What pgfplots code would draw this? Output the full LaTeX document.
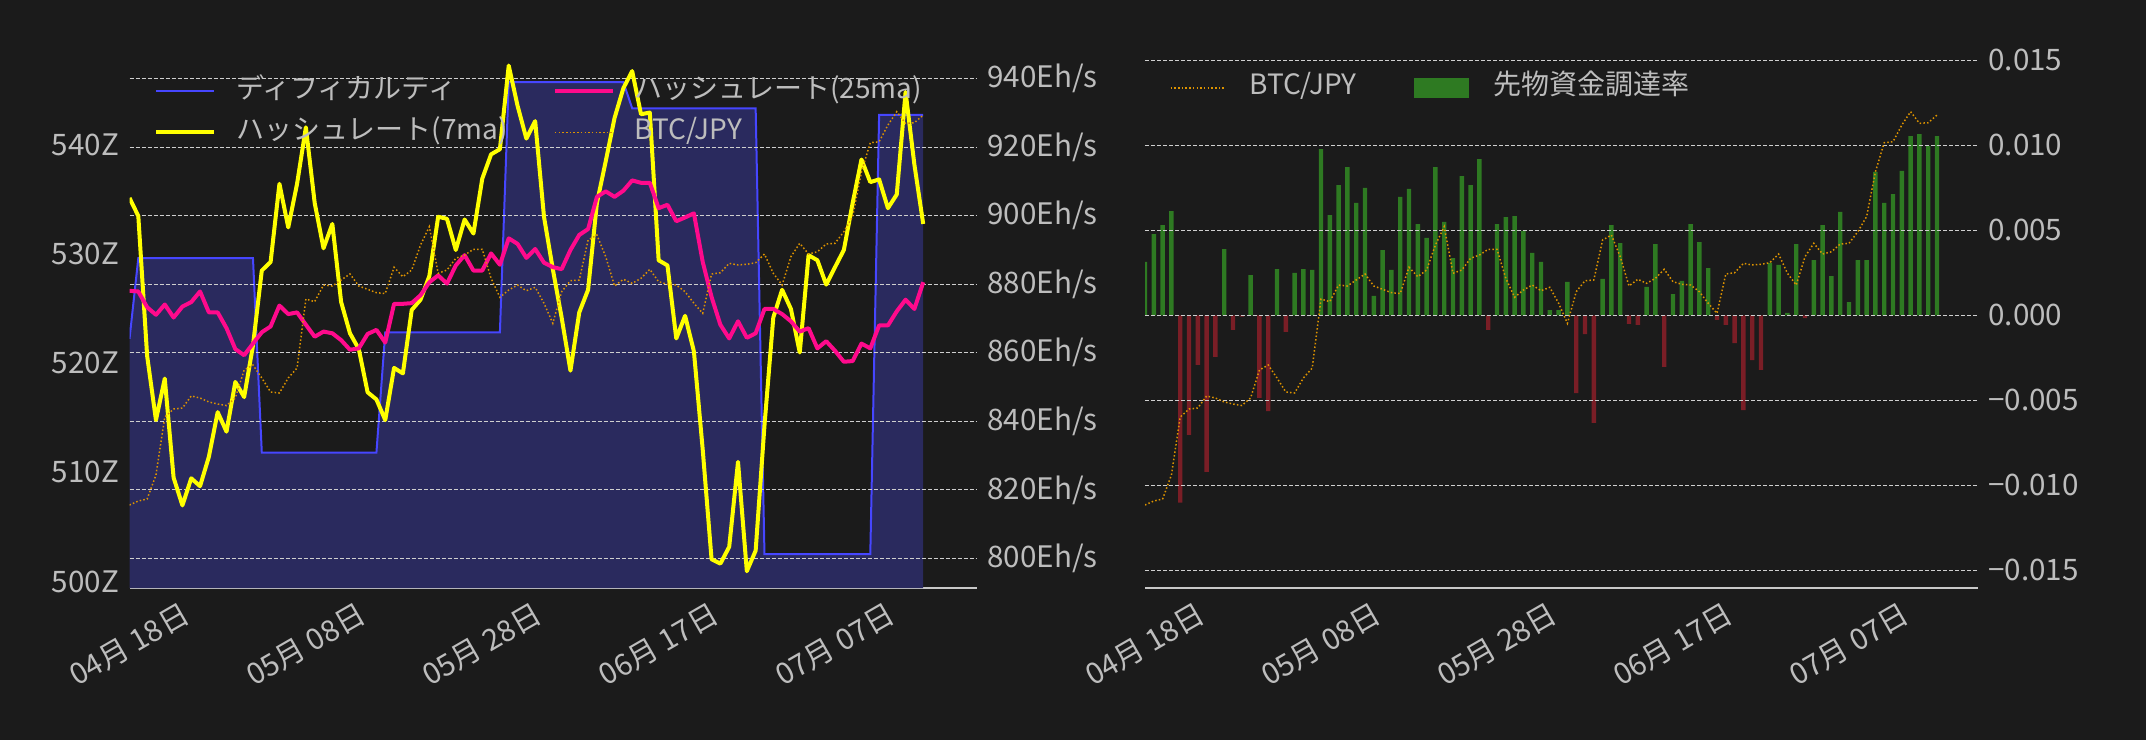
\documentclass[border=0pt]{standalone}
\usepackage{fontspec}
\setmainfont{Noto Sans CJK JP}
\usepackage{pgfplots}
\pgfplotsset{compat=1.18}
\usepackage{pgfplotstable}

\definecolor{bg}{HTML}{1B1B1B}
\definecolor{tickc}{HTML}{BDBDBD}
\definecolor{legc}{HTML}{BDBDBD}
\definecolor{gridc}{HTML}{CFCFCF}
\definecolor{spinec}{HTML}{C8C8C8}
\definecolor{diffline}{HTML}{4646FF}
\definecolor{difffill}{HTML}{2A2A5E}
\definecolor{yel}{HTML}{FFFF00}
\definecolor{mag}{HTML}{FF0A8C}
\definecolor{btcc}{HTML}{DD9300}
\definecolor{barg}{HTML}{2E7A22}
\definecolor{barr}{HTML}{7A1E26}

% day 0 = 04/18
\pgfplotstableread{
d diff h7 h25 btc
0 522.2 905.2 878.1 1206.5
1 529.6 899.9 877.9 1212.2
2 529.6 859.1 873.3 1215.1
3 529.6 840.4 871.1 1249.5
4 529.6 852.5 874.1 1332.6
5 529.6 823.6 870.3 1344.1
6 529.6 815.5 873.5 1345.5
7 529.6 823.4 874.8 1362.8
8 529.6 821.1 877.9 1359.9
9 529.6 829.7 871.8 1354.2
10 529.6 842.7 871.8 1351.3
11 529.6 837.0 867.2 1349.1
12 529.6 851.5 861.1 1359.9
13 529.6 847.1 859.3 1400.0
14 529.6 862.1 862.7 1407.2
15 511.8 884.0 866.0 1388.6
16 511.8 886.5 867.7 1368.5
17 511.8 909.3 873.8 1367.1
18 511.8 896.6 871.3 1388.6
19 511.8 909.3 871.8 1402.9
20 511.8 925.8 868.2 1501.8
21 511.8 903.7 864.7 1498.0
22 511.8 890.5 866.2 1521.9
23 511.8 897.6 865.7 1520.5
24 511.8 874.8 863.7 1529.1
25 511.8 865.7 860.9 1537.7
26 511.8 861.1 861.3 1520.5
27 511.8 848.5 865.5 1515.7
28 511.8 846.4 866.7 1510.9
29 522.8 840.4 863.0 1509.7
30 522.8 855.6 874.3 1547.3
31 522.8 854.0 874.3 1533.8
32 522.8 872.5 874.5 1543.4
33 522.8 875.5 876.8 1579.3
34 522.8 882.4 880.6 1605.5
35 522.8 899.7 882.6 1538.7
36 522.8 899.1 880.2 1543.4
37 522.8 890.0 885.5 1560.2
38 522.8 898.9 888.5 1564.9
39 522.8 894.8 884.0 1573.1
40 522.8 910.8 884.0 1573.1
41 522.8 917.9 889.0 1531.5
42 522.8 919.4 885.7 1504.3
43 545.7 943.8 893.4 1514.7
44 545.7 932.1 891.8 1521.9
45 545.7 922.5 887.7 1513.7
46 545.7 927.6 890.3 1518.6
47 545.7 899.7 886.3 1495.7
48 545.7 884.4 885.0 1467.0
49 545.7 870.3 884.4 1512.3
50 545.7 854.8 890.0 1528.1
51 545.7 871.8 894.4 1529.1
52 545.7 878.4 896.1 1586.4
53 545.7 903.7 905.5 1593.6
54 545.7 915.9 907.1 1562.5
55 545.7 928.5 905.5 1520.5
56 545.7 937.2 907.3 1530.1
57 543.3 942.2 910.3 1524.3
58 543.3 929.6 909.6 1531.5
59 543.3 930.1 909.6 1544.4
60 543.3 887.0 902.2 1526.6
61 543.3 885.5 903.2 1522.9
62 543.3 864.2 898.4 1521.9
63 543.3 870.8 899.5 1512.3
64 543.3 860.4 900.7 1495.7
65 543.3 831.7 886.5 1481.3
66 543.3 799.8 876.3 1537.7
67 543.3 798.5 868.2 1539.5
68 543.3 803.4 864.2 1553.0
69 543.3 828.2 869.2 1550.6
70 543.3 796.3 864.4 1551.6
71 543.3 802.3 865.7 1553.9
72 502.5 838.8 872.8 1566.3
73 502.5 870.3 872.8 1538.7
74 502.5 878.4 871.3 1521.9
75 502.5 872.8 869.2 1562.5
76 502.5 860.1 866.2 1581.7
77 502.5 888.5 867.2 1566.3
78 502.5 887.0 861.3 1569.6
79 502.5 879.9 863.4 1580.7
80 502.5 885.0 860.6 1581.7
81 502.5 890.0 857.4 1598.3
82 502.5 903.7 857.6 1620.0
83 502.5 916.4 862.7 1684.3
84 502.5 909.8 861.3 1725.9
85 542.7 910.6 868.0 1727.3
86 542.7 902.2 868.0 1751.3
87 542.7 906.2 872.1 1770.4
88 542.7 936.1 875.5 1753.7
89 542.7 914.9 872.8 1754.6
90 542.7 897.6 880.6 1765.6
}\hashdata

\pgfplotstableread{
d fr
0 0.00314
1 0.00478
2 0.00531
3 0.00613
4 -0.01102
5 -0.00704
6 -0.00292
7 -0.00921
8 -0.00245
9 0.00390
10 -0.00086
11 -0.00008
12 0.00237
13 -0.00486
14 -0.00563
15 0.00272
16 -0.00098
17 0.00249
18 0.00272
19 0.00267
20 0.00978
21 0.00590
22 0.00766
23 0.00872
24 0.00661
25 0.00749
26 0.00114
27 0.00384
28 0.00267
29 0.00696
30 0.00743
31 0.00537
32 0.00455
33 0.00872
34 0.00549
35 0.00337
36 0.00819
37 0.00766
38 0.00919
39 -0.00086
40 0.00537
41 0.00578
42 0.00584
43 0.00496
44 0.00367
45 0.00314
46 0.00031
47 0.00031
48 0.00196
49 -0.00457
50 -0.00110
51 -0.00633
52 0.00214
53 0.00531
54 0.00425
55 -0.00051
56 -0.00057
57 0.00167
58 0.00419
59 -0.00304
60 0.00125
61 0.00202
62 0.00537
63 0.00431
64 0.00278
65 -0.00027
66 -0.00057
67 -0.00163
68 -0.00557
69 -0.00263
70 -0.00321
71 0.00308
72 0.00296
73 0.00014
74 0.00419
75 -0.00016
76 0.00325
77 0.00531
78 0.00231
79 0.00608
80 0.00078
81 0.00325
82 0.00325
83 0.00843
84 0.00661
85 0.00713
86 0.00849
87 0.01054
88 0.01066
89 0.00996
90 0.01054
}\funddata

\pgfplotsset{
  base/.style={
    scale only axis, anchor=south west, height=271.5pt, xmin=0,
    major tick length=0pt, tick style={draw=none},
    tick label style={font=\fontsize{14.8}{17}\selectfont, text=tickc},
    xticklabel style={yshift=-28.5pt, rotate=30, anchor=center},
    xtick={0,20,40,60,80},
    xticklabels={04月 18日,05月 08日,05月 28日,06月 17日,07月 07日},
  },
  leftax/.style={base, at={(64.75pt,76pt)}, width=423.75pt, xmax=96.1},
  rightax/.style={base, at={(572.5pt,76pt)}, width=416.5pt, xmax=94.66},
  bottomspine/.style={axis x line*=bottom, x axis line style={-, draw=spinec, line width=1.2pt}},
  dashgrid/.style={ymajorgrids, grid style={gridc, line width=0.5pt, dash pattern=on 2pt off 1pt}},
  btcline/.style={btcc, line width=0.75pt, dash pattern=on 0.75pt off 1.1pt},
  leg/.style={legend columns=2, legend cell align=left,
    legend style={draw=none, fill=none, inner sep=0pt, row sep=7.5pt, anchor=north west,
      font=\fontsize{14}{16}\selectfont, text=legc,
      nodes={inner sep=0pt, text height=10pt, text depth=3pt}}},
}

\begin{document}
\begin{tikzpicture}
\fill[bg] (0,0) rectangle (1073pt,370pt);

% left: difficulty
\begin{axis}[leftax, bottomspine, ymin=499.4, ymax=549.1,
  axis y line*=left, y axis line style={draw=none},
  ytick={500,510,520,530,540}, yticklabels={500Z,510Z,520Z,530Z,540Z},
  yticklabel style={anchor=east, inner xsep=0pt, xshift=-5pt}]
\addplot[draw=none, fill=difffill] table[x=d, y=diff] {\hashdata} \closedcycle;
\addplot[diffline, line width=1pt] table[x=d, y=diff] {\hashdata};
\end{axis}

% left: hashrate
\begin{axis}[leftax, ymin=791.4, ymax=949.8, axis x line=none,
  axis y line*=right, y axis line style={draw=none}, dashgrid,
  ytick={800,820,840,860,880,900,920,940},
  yticklabels={800Eh/s,820Eh/s,840Eh/s,860Eh/s,880Eh/s,900Eh/s,920Eh/s,940Eh/s},
  yticklabel style={anchor=west, inner xsep=0pt, xshift=5pt}]
\addplot[yel, line width=2pt, line join=round] table[x=d, y=h7] {\hashdata};
\addplot[mag, line width=2pt, line join=round] table[x=d, y=h25] {\hashdata};
\end{axis}

% left: btc/jpy + legend
\begin{axis}[leftax, hide axis, ymin=1087.5, ymax=1866, leg,
  legend style={at={(0.0289,0.9392)}, /tikz/every odd column/.append style={column sep=10pt}},
  legend image code/.code={\draw[#1] (0pt,0pt) -- (29pt,0pt);}]
\addplot[btcline, forget plot] table[x=d, y=btc] {\hashdata};
\addlegendimage{diffline, line width=1pt}
\addlegendentry{\makebox[158.3pt][l]{ディフィカルティ}}
\addlegendimage{mag, line width=2pt}
\addlegendentry{ハッシュレート(25ma)}
\addlegendimage{yel, line width=2pt}
\addlegendentry{\makebox[158.3pt][l]{ハッシュレート(7ma)}}
\addlegendimage{btcline}
\addlegendentry{BTC/JPY}
\end{axis}

% right: funding rate
\begin{axis}[rightax, bottomspine, axis on top, ymin=-0.01604, ymax=0.0159,
  axis y line*=right, y axis line style={draw=none}, dashgrid,
  scaled y ticks=false,
  ytick={-0.015,-0.010,-0.005,0,0.005,0.010,0.015},
  yticklabels={−0.015,−0.010,−0.005,0.000,0.005,0.010,0.015},
  yticklabel style={anchor=west, inner xsep=0pt, xshift=5pt}]
\addplot[ybar, bar width=0.5, bar shift=0pt, fill=barg, draw=none,
  restrict y to domain=0:1] table[x=d, y=fr] {\funddata};
\addplot[ybar, bar width=0.5, bar shift=0pt, fill=barr, draw=none,
  restrict y to domain=-1:0] table[x=d, y=fr] {\funddata};
\end{axis}

% right: btc/jpy + legend
\begin{axis}[rightax, hide axis, ymin=1087.5, ymax=1866, leg,
  legend style={at={(0.0294,0.9457)}, /tikz/every odd column/.append style={column sep=12.5pt}},
  legend image code/.code={\draw[#1] (0pt,0pt) -- (26.5pt,0pt);}]
\addplot[btcline, forget plot] table[x=d, y=btc] {\hashdata};
\addlegendimage{btcline}
\addlegendentry{\makebox[82.25pt][l]{BTC/JPY}}
\addlegendimage{legend image code/.code={\fill[barg] (0pt,-4.75pt) rectangle (27pt,4.75pt);}}
\addlegendentry{先物資金調達率}
\end{axis}

\pgfresetboundingbox
\useasboundingbox (0,0) rectangle (1073pt,370pt);
\end{tikzpicture}
\end{document}
